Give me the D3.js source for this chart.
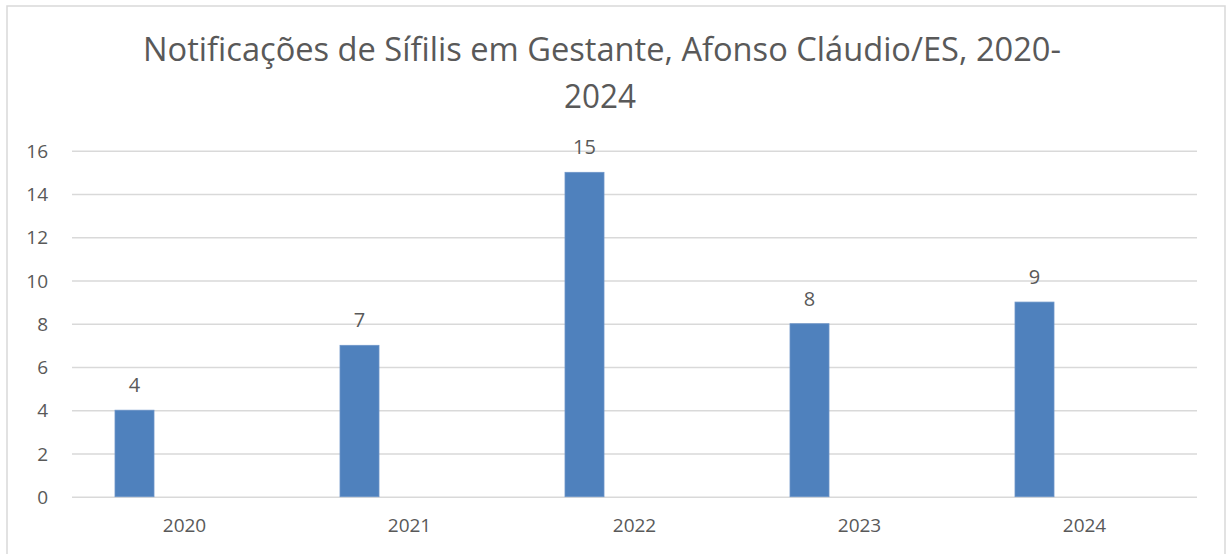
<!DOCTYPE html>
<html>
<head>
<meta charset="utf-8">
<style>
  body { margin: 0; background: #fff; }
  svg text { font-family: 'Open Sans', sans-serif; fill: #595959; }
</style>
<script src="https://d3js.org/d3.v7.min.js"></script>
</head>
<body>
<svg width="1228" height="554"></svg>
<script>
// dados do gráfico
var anos = ["2020", "2021", "2022", "2023", "2024"];
var notificacoes = [4, 7, 15, 8, 9];
var series = ["Notificações", "vazio"];
var yTicks = [0, 2, 4, 6, 8, 10, 12, 14, 16];
var titulo = ["Notificações de Sífilis em Gestante, Afonso Cláudio/ES, 2020-", "2024"];

var svg = d3.select("svg");
var margin = { top: 150.7, right: 31, bottom: 57.3, left: 72 };
var width = 1228 - margin.left - margin.right,
    height = 554 - margin.top - margin.bottom;

// borda do gráfico
svg.append("rect")
  .attr("x", 7).attr("y", 6)
  .attr("width", 1218).attr("height", 560)
  .attr("fill", "none")
  .attr("stroke", "#d9d9d9")
  .attr("stroke-width", 1.5);

// título
var t = svg.append("text")
  .attr("text-anchor", "middle")
  .style("font-size", "32px");
t.append("tspan").attr("x", 602).attr("y", 61).attr("textLength", 918)
  .attr("lengthAdjust", "spacingAndGlyphs").text(titulo[0]);
t.append("tspan").attr("x", 600).attr("y", 108).attr("textLength", 72)
  .attr("lengthAdjust", "spacingAndGlyphs").text(titulo[1]);

var g = svg.append("g").attr("transform", "translate(" + margin.left + "," + margin.top + ")");

var x = d3.scaleBand().domain(anos).range([0, width]).padding(0);
var xs = d3.scaleBand().domain(series).range([0, x.bandwidth()])
  .paddingInner(0.61).paddingOuter(0.43);
var y = d3.scaleLinear().domain([0, 16]).range([height, 0]);

// linhas de grade
g.append("g")
  .call(d3.axisLeft(y).tickValues(yTicks).tickSize(-width).tickFormat(""))
  .call(function (a) { a.select(".domain").remove(); })
  .selectAll("line")
  .attr("stroke", "#d9d9d9")
  .attr("stroke-width", 1.5);

// rótulos do eixo y
g.append("g")
  .call(d3.axisLeft(y).tickValues(yTicks).tickSize(0).tickPadding(24))
  .call(function (a) { a.select(".domain").remove(); })
  .selectAll("text")
  .style("font-size", "19px")
  .attr("dy", "0.35em");

// rótulos do eixo x
g.append("g")
  .attr("transform", "translate(0," + height + ")")
  .call(d3.axisBottom(x).tickSize(0).tickPadding(22))
  .call(function (a) { a.select(".domain").remove(); })
  .selectAll("text")
  .style("font-size", "19px");

var dados = anos.map(function (a, i) { return { ano: a, valor: notificacoes[i] }; });

// barras
g.selectAll(".bar")
  .data(dados)
  .enter().append("rect")
  .attr("class", "bar")
  .attr("x", function (d) { return x(d.ano) + xs(series[0]); })
  .attr("y", function (d) { return y(d.valor); })
  .attr("width", xs.bandwidth())
  .attr("height", function (d) { return height - y(d.valor); })
  .attr("fill", "#4f81bd")
  .attr("stroke", "#6d95c8")
  .attr("stroke-width", 0.8);

// rótulos de dados
g.selectAll(".rotulo")
  .data(dados)
  .enter().append("text")
  .attr("class", "rotulo")
  .attr("text-anchor", "middle")
  .attr("x", function (d) { return x(d.ano) + xs(series[0]) + xs.bandwidth() / 2; })
  .attr("y", function (d) { return y(d.valor) - 18; })
  .style("font-size", "20px")
  .text(function (d) { return d.valor; });
</script>
</body>
</html>
